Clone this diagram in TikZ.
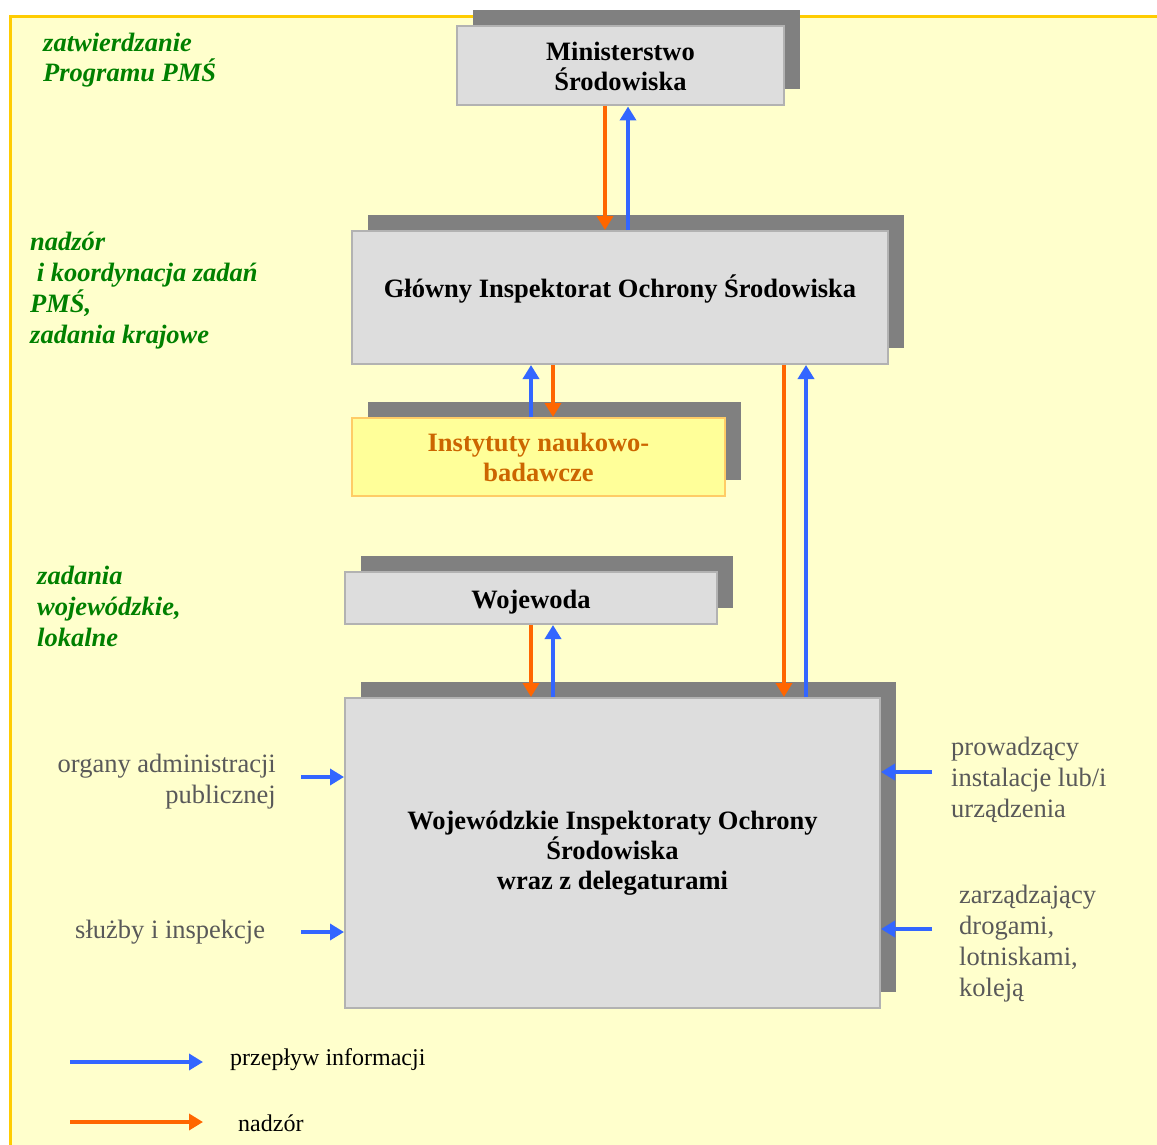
\documentclass[tikz,border=0pt]{standalone}
\usepackage{fontspec}
\setmainfont{Liberation Serif}
\usetikzlibrary{arrows.meta, positioning, calc, shadows}

\definecolor{infoblue}{HTML}{3366FF}
\definecolor{nadzororange}{HTML}{FF6600}
\definecolor{stagegreen}{HTML}{008000}
\definecolor{sidegray}{HTML}{595959}
\definecolor{boxfill}{HTML}{DDDDDD}
\definecolor{boxborder}{HTML}{B2B2B2}
\definecolor{shadowgray}{HTML}{808080}
\definecolor{paleyellow}{HTML}{FFFFCC}
\definecolor{frameyellow}{HTML}{FFCC00}
\definecolor{instfill}{HTML}{FFFF99}
\definecolor{instborder}{HTML}{FFCC66}
\definecolor{insttext}{HTML}{CC6600}

\begin{document}
\begin{tikzpicture}[x=1pt, y=-1pt,
            unit/.style={draw=boxborder, fill=boxfill, line width=2pt, align=center,
                         font=\fontsize{26.5}{30}\selectfont\bfseries,
                         general shadow={fill=shadowgray, shadow xshift=16pt, shadow yshift=16pt}},
            stage/.style={text=stagegreen, font=\fontsize{26.5}{30.8}\selectfont\bfseries\itshape,
                          align=left, anchor=base west, inner sep=0pt},
            side/.style={text=sidegray, font=\fontsize{26.5}{30.8}\selectfont, inner sep=0pt},
            legendtext/.style={font=\fontsize{24}{28}\selectfont, anchor=base west, inner sep=0pt},
            info/.style={draw=infoblue, line width=4pt, -{Triangle[length=14pt, width=16pt]}},
            nadzor/.style={draw=nadzororange, line width=4pt, -{Triangle[length=14pt, width=16pt]}}]

            % page and yellow frame
            \clip (0,0) rectangle (1157,1145);
            \fill[white] (0,0) rectangle (1157,1145);
            \draw[draw=frameyellow, fill=paleyellow, line width=3pt] (10,17) rectangle (1190,1190);

            % institutions
            \node[unit, minimum width=327pt, minimum height=79pt] (min) at (620.5,66)
                {Ministerstwo\\Środowiska};
            \node[unit, minimum width=536pt, minimum height=133pt, text depth=22pt] (gios) at (620,297.5)
                {Główny Inspektorat Ochrony Środowiska};
            \node[unit, fill=instfill, draw=instborder, text=insttext,
                  minimum width=373pt, minimum height=78pt] (inst) at (538.5,457)
                {Instytuty naukowo-\\badawcze};
            \node[unit, minimum width=372pt, minimum height=52pt, text height=26pt] (woj) at (531,598)
                {Wojewoda};
            \node[unit, minimum width=535pt, minimum height=310pt] (wios) at (612.5,853)
                {Wojewódzkie Inspektoraty Ochrony\\Środowiska\\wraz z delegaturami};

            % levels (base = last line)
            \node[stage] (lvlmin) at (43,82) {zatwierdzanie\\Programu PMŚ};
            \node[stage] (lvlgios) at (30,343) {nadzór\\ \ i koordynacja zadań\\PMŚ,\\zadania krajowe};
            \node[stage] (lvlwoj) at (37,646) {zadania\\wojewódzkie,\\lokalne};

            % outside sources
            \node[side, align=right, anchor=base east] (organy) at (276,803) {organy administracji\\publicznej};
            \node[side, anchor=base west] (sluzby) at (75,938) {służby i inspekcje};
            \node[side, align=left, anchor=base west] (prow) at (951,817) {prowadzący\\instalacje lub/i\\urządzenia};
            \node[side, align=left, anchor=base west] (zarz) at (959,996) {zarządzający\\drogami,\\lotniskami,\\koleją};

            % flows between institutions
            \draw[nadzor] ([xshift=-15.5pt]min.south) -- ([xshift=-15.5pt]min.south |- gios.north);
            \draw[info] ([xshift=7.5pt]min.south |- gios.north) -- ([xshift=7.5pt]min.south);
            \draw[info] ([xshift=-7.5pt]inst.north) -- ([xshift=-7.5pt]inst.north |- gios.south);
            \draw[nadzor] ([xshift=14.5pt]inst.north |- gios.south) -- ([xshift=14.5pt]inst.north);
            \draw[nadzor] ([xshift=171.5pt]wios.north |- gios.south) -- ([xshift=171.5pt]wios.north);
            \draw[info] ([xshift=193.5pt]wios.north) -- ([xshift=193.5pt]wios.north |- gios.south);
            \draw[nadzor] (woj.south) -- (woj.south |- wios.north);
            \draw[info] ([xshift=22pt]woj.south |- wios.north) -- ([xshift=22pt]woj.south);

            % inputs to WIOS
            \coordinate (inorg) at (301,777);
            \coordinate (insl) at (301,932);
            \coordinate (inprow) at (932,772);
            \coordinate (inzarz) at (932,929);
            \draw[info] (inorg) -- (inorg -| wios.west);
            \draw[info] (insl) -- (insl -| wios.west);
            \draw[info] (inprow) -- (inprow -| wios.east);
            \draw[info] (inzarz) -- (inzarz -| wios.east);

            % legend
            \coordinate (leginfoA) at (70,1062);
            \coordinate (leginfoB) at (203,1062);
            \coordinate (legnadzA) at (70,1122);
            \coordinate (legnadzB) at (203,1122);
            \draw[info] (leginfoA) -- (leginfoB);
            \draw[nadzor] (legnadzA) -- (legnadzB);
            \node[legendtext] (leginfo) at (230,1065) {przepływ informacji};
            \node[legendtext] (legnadz) at (238,1131) {nadzór};
        \end{tikzpicture}
\end{document}
